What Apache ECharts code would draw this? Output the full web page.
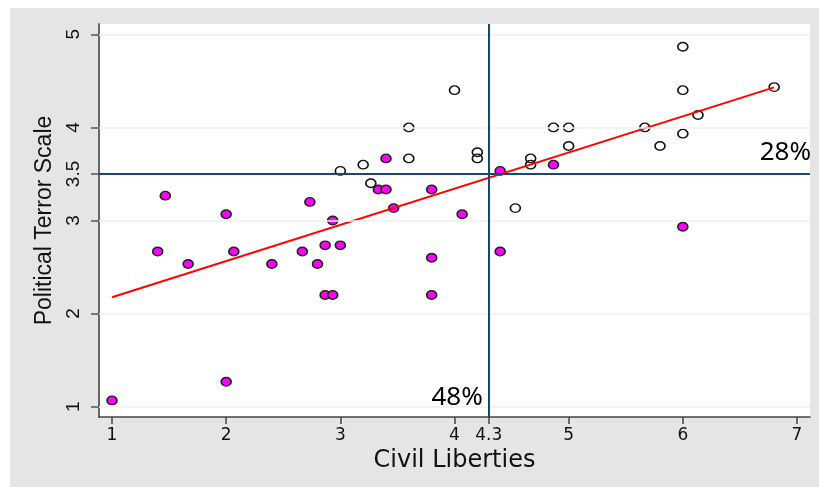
<!DOCTYPE html>
<html>
<head>
<meta charset="utf-8">
<script src="https://cdn.jsdelivr.net/npm/echarts@6/dist/echarts.min.js"></script>
<style>
html,body{margin:0;padding:0;background:#fff;}
#chart{width:819px;height:487px;}
</style>
</head>
<body>
<div id="chart"></div>
<script>
// ---- data ----
const xTicks = [1, 2, 3, 4, 4.3, 5, 6, 7];
const yTicks = [1, 2, 3, 3.5, 4, 5];
const gridY = [1, 2, 3, 4, 5];
const xRange = [0.886, 7.114];
const yRange = [0.889, 5.111];
const cutX = 4.3;
const cutY = 3.5;

const magentaX = [1.0, 1.4, 1.467, 1.667, 2.0, 2.0, 2.067, 2.4, 2.667, 2.733, 2.8, 2.867, 2.867, 2.933,
                  2.933, 3.0, 3.333, 3.4, 3.4, 3.467, 3.8, 3.8, 3.8, 4.067, 4.4, 4.4, 4.867, 6.0];
const magentaY = [1.067, 2.667, 3.267, 2.533, 3.067, 1.267, 2.667, 2.533, 2.667, 3.2, 2.533, 2.733, 2.2, 2.2,
                  3.0, 2.733, 3.333, 3.333, 3.667, 3.133, 3.333, 2.6, 2.2, 3.067, 3.533, 2.667, 3.6, 2.933];

const hollowX = [3.0, 3.2, 3.267, 3.6, 3.6, 4.0, 4.2, 4.2, 4.533, 4.667, 4.667, 4.867, 5.0, 5.0,
                 5.667, 5.8, 6.0, 6.0, 6.0, 6.133, 6.8];
const hollowY = [3.533, 3.6, 3.4, 3.667, 4.0, 4.4, 3.733, 3.667, 3.133, 3.667, 3.6, 4.0, 4.0, 3.8,
                 4.0, 3.8, 4.867, 4.4, 3.933, 4.133, 4.433];

const fitX = [1.0, 6.8];
const fitY = [2.175, 4.43];

const annotText = ['48%', '28%'];
const annotX = [cutX, xRange[1]];
const annotY = [1.0, cutY];

// ---- build ----
const zip = (a, b) => a.map((v, i) => [v, b[i]]);

const chart = echarts.init(document.getElementById('chart'), null, {renderer: 'canvas'});

const tickFont = 'Liberation Sans';
const option = {
  animation: false,
  backgroundColor: 'transparent',
  graphic: [{
    type: 'rect', left: 10, top: 8, z: -10,
    shape: {width: 809, height: 479},
    style: {fill: '#e5e5e5'}
  }],
  grid: {
    left: 99, right: 9, top: 24, bottom: 70,
    show: true, backgroundColor: '#ffffff', borderWidth: 0
  },
  xAxis: {
    type: 'value',
    min: xRange[0], max: xRange[1],
    name: 'Civil Liberties',
    nameLocation: 'middle',
    nameGap: 25,
    nameTextStyle: {fontFamily: 'DejaVu Sans', fontSize: 24, color: '#111'},
    axisLine: {show: true, onZero: false, lineStyle: {color: '#444', width: 1.5}},
    axisTick: {show: true, length: 7, customValues: xTicks, lineStyle: {color: '#444', width: 1.5}},
    axisLabel: {customValues: xTicks, margin: 10, fontFamily: 'DejaVu Sans', fontSize: 17, color: '#111',
                formatter: v => String(v)},
    splitLine: {show: false}
  },
  yAxis: {
    type: 'value',
    min: yRange[0], max: yRange[1],
    name: 'Political Terror Scale',
    nameLocation: 'middle',
    nameGap: 37,
    nameRotate: 90,
    nameTextStyle: {fontFamily: tickFont, fontSize: 23, color: '#111'},
    axisLine: {show: true, onZero: false, lineStyle: {color: '#666', width: 2}},
    axisTick: {show: true, length: 8, customValues: yTicks, lineStyle: {color: '#555', width: 1.5}},
    axisLabel: {customValues: yTicks, rotate: 90, margin: 16, fontFamily: tickFont, fontSize: 19, color: '#111',
                formatter: v => String(v)},
    splitLine: {show: false}
  },
  series: [
    {
      name: 'grid', type: 'scatter', data: [], z: 1, silent: true,
      markLine: {
        silent: true, symbol: 'none', animation: false,
        label: {show: false},
        lineStyle: {color: '#eaf0f0', width: 1.5, type: 'solid'},
        data: gridY.map(v => ({yAxis: v}))
      }
    },
    {
      name: 'cuts', type: 'scatter', data: [], z: 2, silent: true,
      markLine: {
        silent: true, symbol: 'none', animation: false,
        label: {show: false},
        lineStyle: {color: '#1a476f', width: 2, type: 'solid'},
        data: [{xAxis: cutX}, {yAxis: cutY}]
      }
    },
    {
      name: 'below', type: 'scatter', z: 3,
      data: zip(magentaX, magentaY),
      symbol: 'circle', symbolSize: [10, 8.5],
      itemStyle: {color: '#ff00ff', borderColor: '#222', borderWidth: 1.5, opacity: 1}
    },
    {
      name: 'above', type: 'scatter', z: 3,
      data: zip(hollowX, hollowY),
      symbol: 'circle', symbolSize: [10, 8.5],
      itemStyle: {color: 'rgba(255,255,255,0)', borderColor: '#111', borderWidth: 1.5, opacity: 1}
    },
    {
      name: 'fit', type: 'line', z: 4,
      data: zip(fitX, fitY),
      symbol: 'none',
      lineStyle: {color: '#ff0000', width: 2}
    },
    {
      name: 'annot', type: 'scatter', z: 5, silent: true,
      data: annotText.map((t, i) => ({value: [annotX[i], annotY[i]], name: t})),
      symbolSize: 0,
      clip: false,
      itemStyle: {opacity: 1},
      label: {
        show: true, formatter: p => p.name, opacity: 1,
        fontFamily: 'Noto Sans', fontSize: 26, color: '#000',
        align: 'right', verticalAlign: 'middle'
      }
    }
  ]
};
// per-annotation offsets
option.series[5].data[0].label = {offset: [-6, -9]};
option.series[5].data[1].label = {offset: [1, -21]};

chart.setOption(option);
</script>
</body>
</html>
